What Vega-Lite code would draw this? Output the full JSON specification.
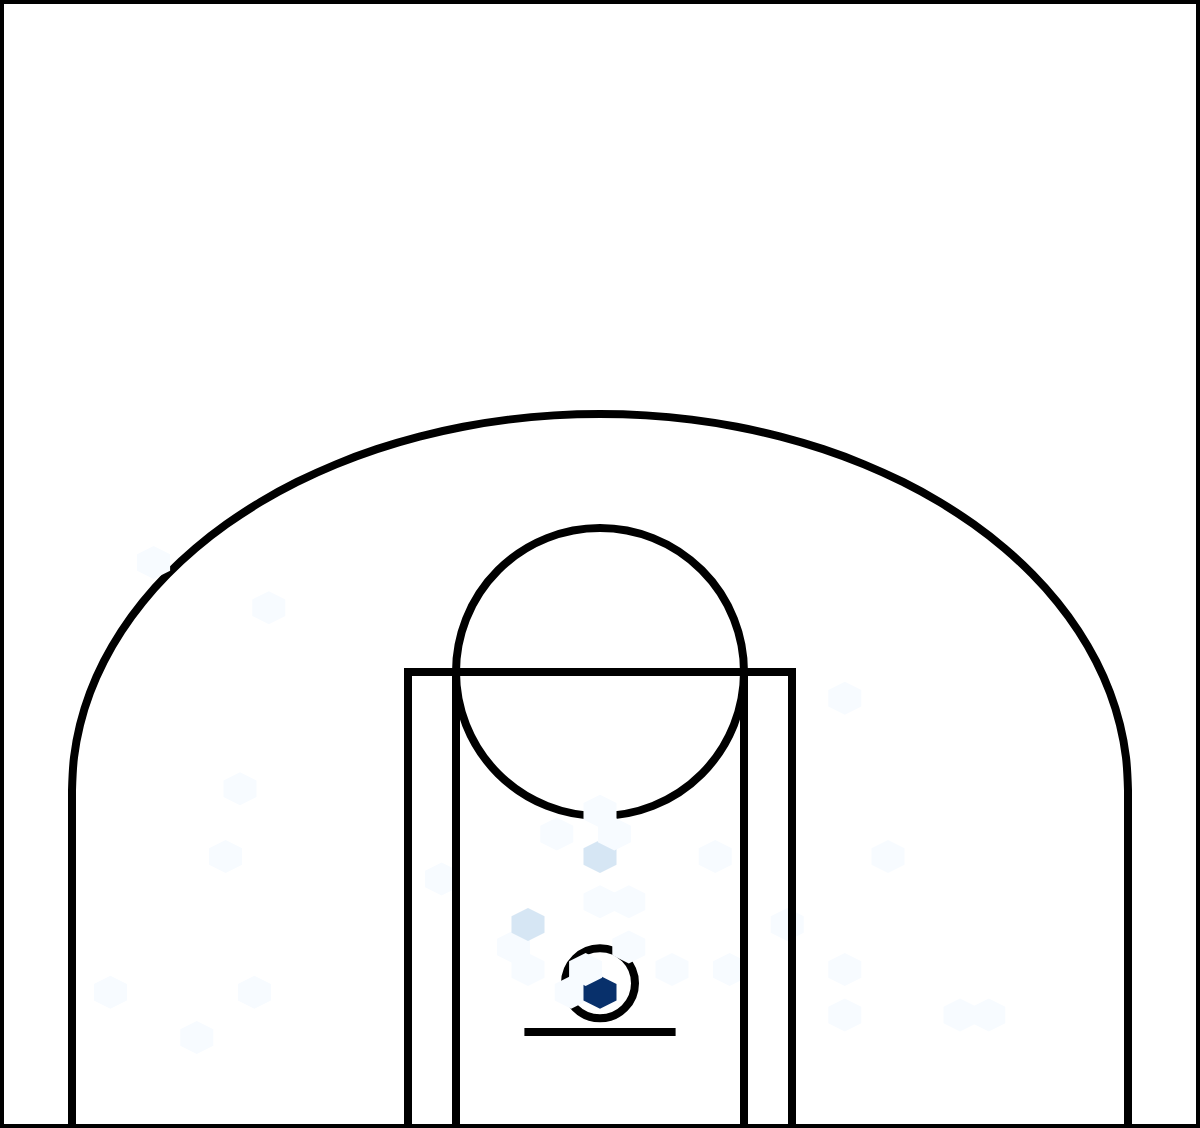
{
  "$schema": "https://vega.github.io/schema/vega-lite/v6.json",
  "width": 1200,
  "height": 1128,
  "autosize": "none",
  "padding": 0,
  "background": "white",
  "config": {"view": {"stroke": "black", "strokeWidth": 8}},
  "datasets": {
    "court": [
      {"seg": "corner_l", "i": 0, "x": -220, "y": -47.5},
      {"seg": "corner_l", "i": 1, "x": -220, "y": 93.33},
      {"seg": "corner_r", "i": 0, "x": 220, "y": -47.5},
      {"seg": "corner_r", "i": 1, "x": 220, "y": 93.33},
      {"seg": "lane_outer", "i": 0, "x": -80, "y": -47.5},
      {"seg": "lane_outer", "i": 1, "x": -80, "y": 142.5},
      {"seg": "lane_outer", "i": 2, "x": 80, "y": 142.5},
      {"seg": "lane_outer", "i": 3, "x": 80, "y": -47.5},
      {"seg": "lane_inner_l", "i": 0, "x": -60, "y": -47.5},
      {"seg": "lane_inner_l", "i": 1, "x": -60, "y": 142.5},
      {"seg": "lane_inner_r", "i": 0, "x": 60, "y": -47.5},
      {"seg": "lane_inner_r", "i": 1, "x": 60, "y": 142.5},
      {"seg": "backboard", "i": 0, "x": -31.5, "y": -7.5},
      {"seg": "backboard", "i": 1, "x": 31.5, "y": -7.5}
    ],
    "three_arc": [
      {"i": 0, "x": -220, "y": 93.33},
      {"i": 1, "x": -219.16, "y": 106.99},
      {"i": 2, "x": -216.66, "y": 120.54},
      {"i": 3, "x": -212.5, "y": 133.89},
      {"i": 4, "x": -206.73, "y": 146.92},
      {"i": 5, "x": -199.39, "y": 159.55},
      {"i": 6, "x": -190.53, "y": 171.68},
      {"i": 7, "x": -180.21, "y": 183.21},
      {"i": 8, "x": -168.53, "y": 194.06},
      {"i": 9, "x": -155.56, "y": 204.13},
      {"i": 10, "x": -141.41, "y": 213.37},
      {"i": 11, "x": -126.19, "y": 221.69},
      {"i": 12, "x": -110, "y": 229.03},
      {"i": 13, "x": -92.98, "y": 235.35},
      {"i": 14, "x": -75.24, "y": 240.58},
      {"i": 15, "x": -56.94, "y": 244.69},
      {"i": 16, "x": -38.2, "y": 247.65},
      {"i": 17, "x": -19.18, "y": 249.43},
      {"i": 18, "x": 0, "y": 250.03},
      {"i": 19, "x": 19.18, "y": 249.43},
      {"i": 20, "x": 38.2, "y": 247.65},
      {"i": 21, "x": 56.94, "y": 244.69},
      {"i": 22, "x": 75.24, "y": 240.58},
      {"i": 23, "x": 92.98, "y": 235.35},
      {"i": 24, "x": 110, "y": 229.03},
      {"i": 25, "x": 126.19, "y": 221.69},
      {"i": 26, "x": 141.41, "y": 213.37},
      {"i": 27, "x": 155.56, "y": 204.13},
      {"i": 28, "x": 168.53, "y": 194.06},
      {"i": 29, "x": 180.21, "y": 183.21},
      {"i": 30, "x": 190.53, "y": 171.68},
      {"i": 31, "x": 199.39, "y": 159.55},
      {"i": 32, "x": 206.73, "y": 146.92},
      {"i": 33, "x": 212.5, "y": 133.89},
      {"i": 34, "x": 216.66, "y": 120.54},
      {"i": 35, "x": 219.16, "y": 106.99},
      {"i": 36, "x": 220, "y": 93.33}
    ],
    "shots": [
      {"x": -204, "y": 9.1, "count": 1},
      {"x": -168, "y": -9.8, "count": 1},
      {"x": -156, "y": 65.6, "count": 1},
      {"x": -144, "y": 9.1, "count": 1},
      {"x": -36, "y": 27.9, "count": 1},
      {"x": -12, "y": 9.1, "count": 1},
      {"x": 0, "y": 9.1, "count": 7},
      {"x": 0, "y": 46.8, "count": 1},
      {"x": 0, "y": 65.6, "count": 2},
      {"x": 0, "y": 84.5, "count": 1},
      {"x": 12, "y": 27.9, "count": 1},
      {"x": 12, "y": 46.8, "count": 1},
      {"x": 48, "y": 65.6, "count": 1},
      {"x": 120, "y": 65.6, "count": 1},
      {"x": -186, "y": 188.1, "count": 1},
      {"x": -150, "y": 93.9, "count": 1},
      {"x": -138, "y": 169.3, "count": 1},
      {"x": -66, "y": 56.2, "count": 1},
      {"x": -30, "y": 18.5, "count": 1},
      {"x": -30, "y": 37.3, "count": 2},
      {"x": -18, "y": 75.0, "count": 1},
      {"x": -6, "y": 18.5, "count": 1},
      {"x": 6, "y": 75.0, "count": 1},
      {"x": 30, "y": 18.5, "count": 1},
      {"x": 54, "y": 18.5, "count": 1},
      {"x": 78, "y": 37.3, "count": 1},
      {"x": 102, "y": -0.4, "count": 1},
      {"x": 102, "y": 18.5, "count": 1},
      {"x": 102, "y": 131.6, "count": 1},
      {"x": 150, "y": -0.4, "count": 1},
      {"x": 162, "y": -0.4, "count": 1}
    ]
  },
  "encoding": {
    "x": {
      "field": "x",
      "type": "quantitative",
      "scale": {"domain": [-250, 250], "nice": false, "zero": false},
      "axis": null
    },
    "y": {
      "field": "y",
      "type": "quantitative",
      "scale": {"domain": [-47.5, 422.5], "nice": false, "zero": false},
      "axis": null
    }
  },
  "layer": [
    {
      "data": {"name": "three_arc"},
      "mark": {
        "type": "line",
        "interpolate": "cardinal",
        "color": "black",
        "strokeWidth": 8
      },
      "encoding": {"order": {"field": "i", "type": "quantitative"}}
    },
    {
      "data": {"values": [{"x": 0, "y": 142.5}]},
      "mark": {
        "type": "point",
        "shape": "circle",
        "size": 82944,
        "filled": false,
        "stroke": "black",
        "strokeWidth": 8,
        "opacity": 1
      }
    },
    {
      "data": {"values": [{"x": 0, "y": 12.8}]},
      "mark": {
        "type": "point",
        "shape": "circle",
        "size": 4900,
        "filled": false,
        "stroke": "black",
        "strokeWidth": 8,
        "opacity": 1
      }
    },
    {
      "data": {"name": "shots"},
      "mark": {
        "type": "point",
        "shape": "M0,-1L1,-0.5L1,0.5L0,1L-1,0.5L-1,-0.5Z",
        "size": 1089,
        "filled": true,
        "opacity": 1,
        "strokeWidth": 0
      },
      "encoding": {
        "color": {
          "field": "count",
          "type": "quantitative",
          "scale": {
            "type": "linear",
            "domain": [1, 1.75, 2.5, 3.25, 4, 4.75, 5.5, 6.25, 7],
            "range": ["#f7fbff", "#deebf7", "#c6dbef", "#9ecae1", "#6baed6", "#4292c6", "#2171b5", "#08519c", "#08306b"],
            "interpolate": "rgb"
          },
          "legend": null
        }
      }
    },
    {
      "data": {"name": "court"},
      "mark": {
        "type": "line",
        "color": "black",
        "strokeWidth": 8,
        "strokeJoin": "miter",
        "strokeCap": "butt"
      },
      "encoding": {
        "detail": {"field": "seg", "type": "nominal"},
        "order": {"field": "i", "type": "quantitative"}
      }
    }
  ]
}
